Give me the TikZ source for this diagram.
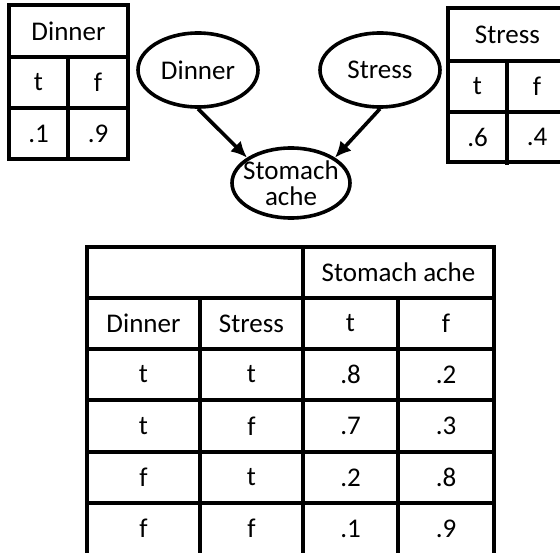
\documentclass[tikz,border=0pt]{standalone}
\usepackage{fontspec}
\setmainfont{Carlito}
\usetikzlibrary{arrows.meta,shapes.geometric}
\begin{document}
\begin{tikzpicture}[x=1pt,y=-1pt,
  grid/.style={line width=3.2pt,line cap=rect},
  txt/.style={inner sep=0pt,font=\fontsize{27}{30}\selectfont},
  var/.style={draw,ellipse,line width=3.6pt,minimum width=120pt,minimum height=74pt,inner sep=0pt,font=\fontsize{27}{30}\selectfont,align=center},
  arr/.style={line width=3.6pt,-{Latex[length=16pt,width=15pt]},shorten >=0pt}]
\clip (0,0) rectangle (560,553);
% left table (Dinner)
\draw[grid] (9,5) rectangle (128,159);
\draw[grid] (9,57) -- (128,57) (9,108) -- (128,108) (68,57) -- (68,159);
\node[txt] (ld) at (68.5,31) {Dinner};
\node[txt] (ldt) at (38.5,82.5) {t};
\node[txt] (ldf) at (98,82.5) {f};
\node[txt] (ldt1) at (38.5,133.5) {.1};
\node[txt] (ldf1) at (98,133.5) {.9};
% right table (Stress)
\draw[grid] (448,8) rectangle (567,162);
\draw[grid] (448,61) -- (567,61) (448,112) -- (567,112) (507,61) -- (507,163);
\node[txt] (rs) at (507.5,34.5) {Stress};
\node[txt] (rst) at (477.5,86.5) {t};
\node[txt] (rsf) at (537,86.5) {f};
\node[txt] (rst1) at (477.5,137) {.6};
\node[txt] (rsf1) at (537,137) {.4};
% network
\node[var] (dinner) at (198,70) {Dinner};
\node[var] (stress) at (380,70) {Stress};
\node[var,minimum width=118pt,minimum height=70pt,inner xsep=-9pt,inner ysep=-6pt] (stomach) at (291,183) {Stomach\\[-4pt]ache};
\draw[arr] (dinner.south) -- (stomach.150);
\draw[arr] (stress.south) -- (stomach.30);
% bottom table
\draw[grid] (87,247) rectangle (494,556);
\foreach \yy in {298,349,400,452,503} \draw[grid] (87,\yy) -- (494,\yy);
\draw[grid] (200,298) -- (200,556);
\draw[grid] (303,247) -- (303,556);
\draw[grid] (398,298) -- (398,556);
\node[txt] (hsa) at (398.5,272.5) {Stomach ache};
\node[txt] (hd) at (143.5,323.5) {Dinner};
\node[txt] (hs) at (251.5,323.5) {Stress};
\node[txt] (ht) at (350.5,323.5) {t};
\node[txt] (hf) at (446,323.5) {f};
\node[txt] (a1) at (143.5,374.5) {t};
\node[txt] (b1) at (251.5,374.5) {t};
\node[txt] (c1) at (350.5,374.5) {.8};
\node[txt] (d1) at (446,374.5) {.2};
\node[txt] (a2) at (143.5,426) {t};
\node[txt] (b2) at (251.5,426) {f};
\node[txt] (c2) at (350.5,426) {.7};
\node[txt] (d2) at (446,426) {.3};
\node[txt] (a3) at (143.5,477.5) {f};
\node[txt] (b3) at (251.5,477.5) {t};
\node[txt] (c3) at (350.5,477.5) {.2};
\node[txt] (d3) at (446,477.5) {.8};
\node[txt] (a4) at (143.5,528.5) {f};
\node[txt] (b4) at (251.5,528.5) {f};
\node[txt] (c4) at (350.5,528.5) {.1};
\node[txt] (d4) at (446,528.5) {.9};
\end{tikzpicture}
\end{document}
